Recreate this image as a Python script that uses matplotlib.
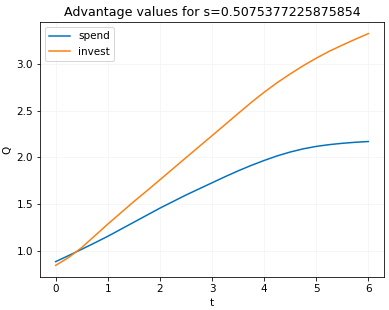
import matplotlib
matplotlib.use("Agg")
import matplotlib.pyplot as plt

t = [0, 0.25, 0.5, 0.75, 1, 1.25, 1.5, 1.75, 2, 2.25, 2.5, 2.75, 3,
     3.25, 3.5, 3.75, 4, 4.25, 4.5, 4.75, 5, 5.25, 5.5, 5.75, 6]
spend = [0.89, 0.955, 1.022, 1.09, 1.16, 1.235, 1.31, 1.385, 1.46, 1.53, 1.60, 1.665, 1.73,
         1.795, 1.857, 1.915, 1.968, 2.017, 2.058, 2.092, 2.118, 2.137, 2.151, 2.162, 2.17]
invest = [0.85, 0.935, 1.04, 1.165, 1.29, 1.41, 1.53, 1.645, 1.762, 1.88, 1.998, 2.115, 2.232,
          2.35, 2.468, 2.585, 2.695, 2.797, 2.89, 2.978, 3.058, 3.132, 3.197, 3.26, 3.32]
title = "Advantage values for s=0.5075377225875854"

plt.rcParams["font.size"] = 10.4
fig = plt.figure(figsize=(389/72, 310/72), dpi=72)
ax = fig.add_axes([40/389, 33/310, 344/389, 255/310])
ax.plot(t, spend, color="#0072bd", lw=1.5, label="spend")
ax.plot(t, invest, color="#ff7f0e", lw=1.5, label="invest")
ax.grid(True, color="#f4f4f4", lw=0.8)
ax.set_xlabel("t")
ax.set_ylabel("Q")
ax.set_title(title, fontsize=12.6)
ax.legend(loc="upper left")
fig.savefig("out.png", dpi=72)
